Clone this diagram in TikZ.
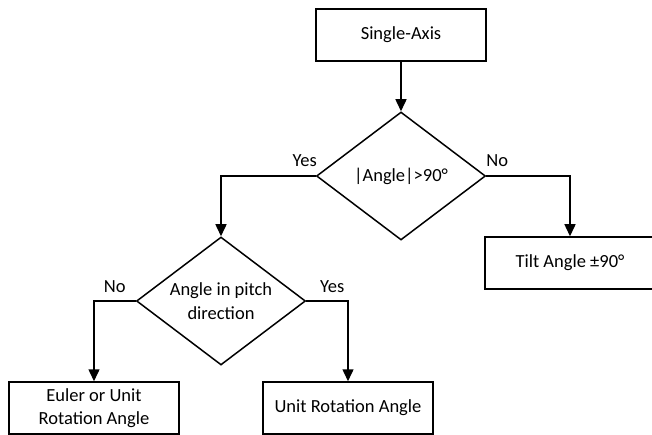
\documentclass[tikz,border=0pt]{standalone}
\usepackage{fontspec}
\setmainfont{Carlito}
\usetikzlibrary{shapes.geometric,arrows.meta}

\begin{document}
\begin{tikzpicture}[x=1pt,y=-1pt,line width=1.5pt,
    every node/.style={font=\fontsize{18.5}{23.5}\selectfont},
    stepbox/.style={draw,rectangle,minimum width=170pt,minimum height=52pt,
        inner sep=0pt,align=center,line width=1.5pt},
    decision/.style={draw,diamond,aspect=1.32,minimum width=169pt,
        minimum height=128pt,inner sep=0pt,align=center,line width=1.5pt},
    arrow/.style={-{Triangle[width=11pt,length=12pt]}}]
    \useasboundingbox (0,0) rectangle (652,435);

    % boxes and decisions
    \node[stepbox] (axis) at (401,35) {Single-Axis};
    \node[decision] (big) at (401,176) {|Angle|>90°};
    \node[stepbox] (tilt) at (570,263) {Tilt Angle ±90°};
    \node[decision] (pitch) at (221,301) {Angle in pitch\\direction};
    \node[stepbox] (euler) at (94,408) {Euler or Unit\\Rotation Angle};
    \node[stepbox] (unit) at (348,408) {Unit Rotation Angle};

    % connectors
    \draw[arrow] (axis) -- (big);
    \draw[arrow] (big.west) -| (pitch.north);
    \draw[arrow] (big.east) -| (tilt.north);
    \draw[arrow] (pitch.west) -| (euler.north);
    \draw[arrow] (pitch.east) -| (unit.north);

    % labels
    \node (yesbig) at ([xshift=-11pt,yshift=15pt]big.west) {Yes};
    \node (nobig) at ([xshift=11pt,yshift=15pt]big.east) {No};
    \node (nopitch) at ([xshift=-21pt,yshift=14pt]pitch.west) {No};
    \node (yespitch) at ([xshift=26pt,yshift=14pt]pitch.east) {Yes};
\end{tikzpicture}
\end{document}
